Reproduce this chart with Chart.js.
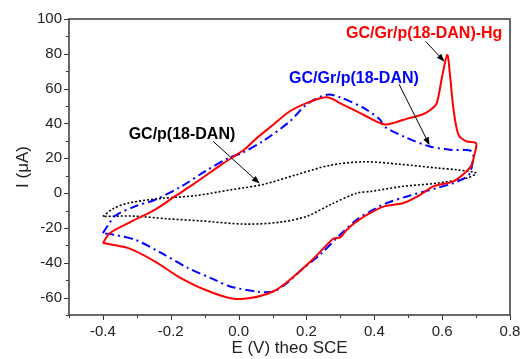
<!DOCTYPE html>
<html>
<head>
<meta charset="utf-8">
<script src="https://cdn.jsdelivr.net/npm/chart.js@4.4.1/dist/chart.umd.min.js"></script>
<style>
  body { margin: 0; background: #fff; }
  canvas { display: block; }
</style>
</head>
<body>
<canvas id="cv" width="528" height="359"></canvas>
<script>
// ---- data (E in V, I in uA) ----
const E_HG = [-0.400, -0.380, -0.325, -0.246, -0.188, -0.129, -0.050, 0.020, 0.048, 0.102, 0.151, 0.200, 0.260, 0.299, 0.368, 0.427, 0.460, 0.497, 0.540, 0.566, 0.584, 0.599, 0.615, 0.623, 0.633, 0.648, 0.672, 0.700,
              0.695, 0.687, 0.672, 0.633, 0.574, 0.535, 0.486, 0.429, 0.387, 0.348, 0.319, 0.299, 0.279, 0.222, 0.151, 0.102, 0.034, -0.020, -0.099, -0.178, -0.246, -0.325, -0.400];
const I_HG = [-28.7, -23.0, -17.2, -9.5, -1.9, 5.7, 16.5, 25.5, 30.7, 39.3, 47.0, 51.7, 55.0, 51.7, 45.0, 39.5, 40.5, 42.8, 45.0, 47.9, 51.7, 66.0, 79.3, 68.0, 48.9, 33.6, 29.7, 28.7,
              22.0, 16.3, 12.5, 6.7, 3.9, -1.0, -5.7, -7.6, -11.5, -16.3, -21.0, -25.5, -26.2, -37.4, -49.8, -56.5, -60.3, -60.5, -55.5, -47.9, -39.3, -31.6, -28.7];

const E_GR = [-0.400, -0.384, -0.364, -0.305, -0.246, -0.168, -0.099, -0.030, 0.009, 0.073, 0.151, 0.200, 0.260, 0.300, 0.368, 0.417, 0.429, 0.497, 0.564, 0.623, 0.682,
              0.692, 0.682, 0.665, 0.630, 0.584, 0.496, 0.437, 0.397, 0.348, 0.299, 0.240, 0.191, 0.142, 0.102, 0.053, -0.025, -0.070, -0.148, -0.227, -0.305, -0.369, -0.400];
const I_GR = [-23.0, -18.2, -13.0, -7.6, -3.8, 3.9, 12.5, 20.1, 23.0, 30.0, 41.2, 50.8, 56.5, 55.0, 48.9, 42.2, 38.3, 31.6, 26.8, 24.9, 24.5,
              22.0, 11.5, 8.5, 5.5, 2.9, -1.9, -5.7, -9.5, -15.3, -23.9, -35.4, -43.1, -51.7, -56.5, -56.5, -53.6, -49.8, -43.1, -34.5, -26.8, -23.9, -23.0];

const E_GC = [-0.400, -0.370, -0.325, -0.227, -0.130, -0.020, 0.073, 0.171, 0.270, 0.370, 0.470, 0.586, 0.643, 0.700,
              0.672, 0.584, 0.486, 0.390, 0.348, 0.270, 0.200, 0.122, 0.020, -0.114, -0.212, -0.310, -0.400];
const I_GC = [-13.4, -9.0, -5.7, -3.0, -1.5, 2.0, 5.0, 10.6, 16.0, 18.0, 16.7, 14.4, 13.4, 11.5,
              8.6, 5.7, 3.9, 1.0, 0.0, -6.7, -13.4, -16.7, -17.8, -15.9, -14.7, -13.2, -13.4];

const X_MIN = -0.5, X_MAX = 0.8;
const Y_MIN = -70, Y_MAX = 100;

// labels with arrows (in data units)
const NOTES = [
  { text: "GC/Gr/p(18-DAN)-Hg", color: "#ff0000", at: [0.547, 91.5], from: [0.552, 87.0], to: [0.607, 75.5] },
  { text: "GC/Gr/p(18-DAN)", color: "#0000ff", at: [0.340, 66.0], from: [0.473, 62.5], to: [0.563, 27.5] },
  { text: "GC/p(18-DAN)", color: "#000000", at: [-0.167, 33.5], from: [-0.075, 29.7], to: [0.062, 5.5] }
];

function pts(xs, ys) {
  return xs.map((x, i) => ({ x: x, y: ys[i] }));
}

const FONT = "'Liberation Sans', Arial, sans-serif";

// =====================
// FRAME, TICKS, NOTES
// =====================
const extras = {
  id: "extras",
  afterDraw(chart) {
    const { ctx, chartArea: a, scales: { x, y } } = chart;
    ctx.save();
    ctx.strokeStyle = "#333";
    ctx.lineWidth = 1;
    x.ticks.forEach(t => {
      const px = Math.round(x.getPixelForValue(t.value)) + 0.5;
      const len = t.label !== "" ? 5 : 3;
      ctx.beginPath(); ctx.moveTo(px, a.bottom); ctx.lineTo(px, a.bottom + len); ctx.stroke();
    });
    y.ticks.forEach(t => {
      const py = Math.round(y.getPixelForValue(t.value)) + 0.5;
      const len = t.label !== "" ? 5 : 3;
      ctx.beginPath(); ctx.moveTo(a.left, py); ctx.lineTo(a.left - len, py); ctx.stroke();
    });
    ctx.lineWidth = 1.6;
    ctx.strokeStyle = "#444";
    ctx.strokeRect(a.left, a.top, a.right - a.left, a.bottom - a.top);

    // notes
    ctx.font = "bold 16px " + FONT;
    ctx.textAlign = "center";
    ctx.textBaseline = "middle";
    NOTES.forEach(n => {
      ctx.fillStyle = n.color;
      ctx.fillText(n.text, x.getPixelForValue(n.at[0]), y.getPixelForValue(n.at[1]));
      const x0 = x.getPixelForValue(n.from[0]), y0 = y.getPixelForValue(n.from[1]);
      const x1 = x.getPixelForValue(n.to[0]), y1 = y.getPixelForValue(n.to[1]);
      const ang = Math.atan2(y1 - y0, x1 - x0);
      ctx.strokeStyle = "#000";
      ctx.fillStyle = "#000";
      ctx.lineWidth = 1;
      ctx.beginPath(); ctx.moveTo(x0, y0); ctx.lineTo(x1 - 5 * Math.cos(ang), y1 - 5 * Math.sin(ang)); ctx.stroke();
      ctx.beginPath();
      ctx.moveTo(x1, y1);
      ctx.lineTo(x1 - 8 * Math.cos(ang) + 3 * Math.sin(ang), y1 - 8 * Math.sin(ang) - 3 * Math.cos(ang));
      ctx.lineTo(x1 - 8 * Math.cos(ang) - 3 * Math.sin(ang), y1 - 8 * Math.sin(ang) + 3 * Math.cos(ang));
      ctx.closePath(); ctx.fill();
    });
    ctx.restore();
  }
};

new Chart(document.getElementById("cv"), {
  type: "scatter",
  data: {
    datasets: [
      {
        label: "GC/Gr/p(18-DAN)-Hg",
        data: pts(E_HG, I_HG),
        showLine: true, borderColor: "#ff0000", borderWidth: 2,
        pointRadius: 0, tension: 0.3, order: 1
      },
      {
        label: "GC/Gr/p(18-DAN)",
        data: pts(E_GR, I_GR),
        showLine: true, borderColor: "#0000ff", borderWidth: 2,
        borderDash: [9, 4, 2, 4],
        pointRadius: 0, tension: 0.3, order: 2
      },
      {
        label: "GC/p(18-DAN)",
        data: pts(E_GC, I_GC),
        showLine: true, borderColor: "#000000", borderWidth: 1.6,
        borderDash: [2, 2],
        pointRadius: 0, tension: 0.3, order: 3
      }
    ]
  },
  options: {
    responsive: false,
    animation: false,
    devicePixelRatio: 1,
    layout: { padding: { left: 7, top: 19, right: 18, bottom: 0 } },
    plugins: { legend: { display: false }, tooltip: { enabled: false } },
    scales: {
      x: {
        type: "linear", min: X_MIN, max: X_MAX,
        afterFit(s) { s.height = 44; },
        border: { display: false },
        grid: { display: false, drawTicks: true, tickLength: 5 },
        ticks: {
          stepSize: 0.1, padding: 3, color: "#222",
          font: { family: FONT, size: 15 },
          maxRotation: 0, autoSkip: false,
          callback: v => {
            const k = Math.round(v * 10);
            return (k % 2 === 0 && k >= -4) ? (k / 10).toFixed(1) : "";
          }
        },
        title: {
          display: true, text: "E (V) theo SCE", color: "#222",
          font: { family: FONT, size: 17 }, padding: { top: 0, bottom: 0 }
        }
      },
      y: {
        type: "linear", min: Y_MIN, max: Y_MAX,
        afterFit(s) { s.width = 62; },
        border: { display: false },
        grid: { display: false, drawTicks: true, tickLength: 5 },
        ticks: {
          stepSize: 10, padding: 2, color: "#222",
          font: { family: FONT, size: 15 },
          autoSkip: false,
          callback: v => (Math.round(v) % 20 === 0 ? String(Math.round(v)) : "")
        },
        title: {
          display: true, text: "I (\u03bcA)", color: "#222",
          font: { family: FONT, size: 17 }, padding: { top: 6, bottom: 0 }
        }
      }
    }
  },
  plugins: [extras]
});
</script>
</body>
</html>
